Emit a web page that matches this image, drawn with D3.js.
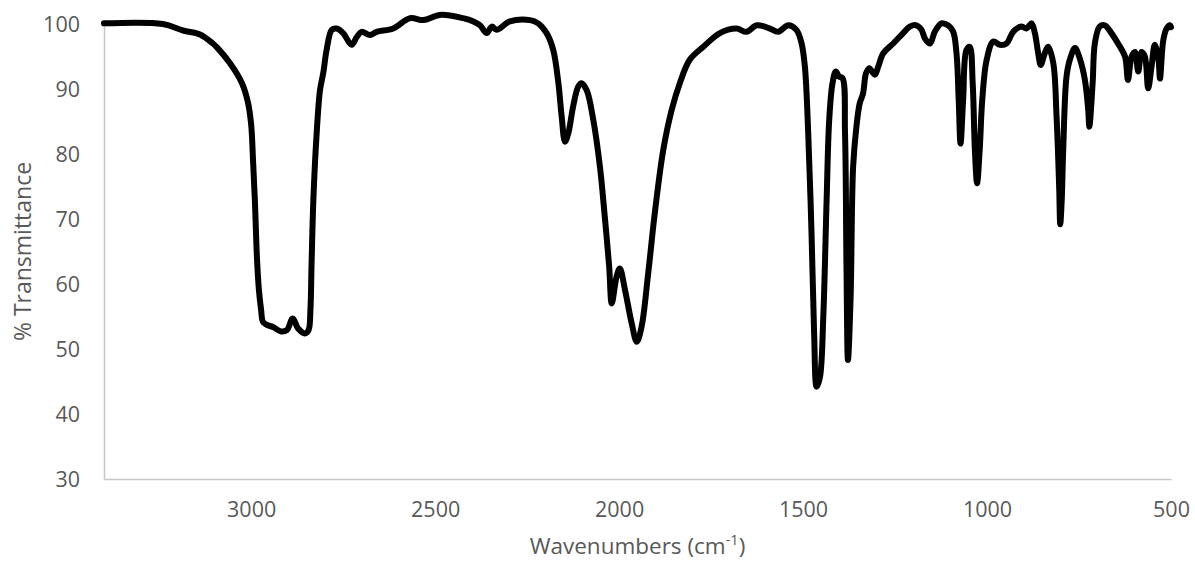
<!DOCTYPE html>
<html>
<head>
<meta charset="utf-8">
<script src="https://cdn.jsdelivr.net/npm/d3@7"></script>
<style>
  html, body { margin: 0; padding: 0; background: #fff; }
  svg { display: block; }
  text { font-family: "Open Sans", "Liberation Sans", sans-serif; fill: #595959; }
</style>
</head>
<body>
<script>
// IR spectrum: wavenumber (cm-1) and % transmittance
const wavenumbers = [
  3400, 3240, 3185, 3139, 3104, 3093, 3058, 3025, 3009, 3000, 2995, 2990, 2984, 2979, 2973, 2968,
  2957, 2941, 2919, 2903, 2887, 2873, 2854, 2844, 2839, 2836, 2831, 2822, 2813, 2804, 2795, 2781,
  2768, 2750, 2727, 2713, 2700, 2677, 2659, 2614, 2568, 2532, 2487, 2424, 2396, 2378, 2360, 2346,
  2333, 2297, 2242, 2220, 2197, 2179, 2165, 2156, 2147, 2138, 2125, 2111, 2102, 2088, 2070, 2052,
  2039, 2027, 2020, 2007, 1998, 1984, 1966, 1952, 1939, 1921, 1903, 1880, 1857, 1835, 1808, 1771,
  1726, 1681, 1654, 1626, 1590, 1568, 1540, 1518, 1504, 1495, 1486, 1477, 1470, 1463, 1454, 1445,
  1436, 1429, 1420, 1411, 1402, 1393, 1386, 1382, 1378, 1371, 1364, 1355, 1346, 1337, 1329, 1320,
  1305, 1296, 1282, 1255, 1228, 1210, 1192, 1178, 1169, 1155, 1142, 1124, 1106, 1092, 1083, 1077,
  1072, 1065, 1056, 1047, 1039, 1033, 1027, 1020, 1013, 1001, 983, 965, 947, 929, 906, 893,
  879, 870, 861, 854, 843, 834, 820, 811, 804, 801, 797, 793, 784, 775, 761, 748,
  734, 725, 722, 713, 707, 694, 680, 662, 644, 625, 617, 607, 598, 589, 580, 571,
  562, 553, 544, 534, 530, 521, 512, 503, 500
];
const transmittance = [
  100.1, 100.0, 99.0, 98.4, 97.0, 96.4, 94.0, 90.9, 88.0, 84.5, 79.1, 72.9, 63.7, 59.1, 56.0, 54.2,
  53.7, 53.4, 52.7, 52.9, 54.7, 53.2, 52.4, 52.9, 56.0, 62.7, 72.9, 83.2, 89.8, 92.5, 96.0, 99.1,
  99.3, 98.6, 96.8, 98.0, 98.8, 98.3, 98.8, 99.3, 100.9, 100.6, 101.4, 100.9, 100.4, 99.8, 98.6, 99.6,
  99.1, 100.4, 100.6, 100.1, 98.6, 96.0, 90.9, 85.7, 81.9, 83.2, 87.3, 90.4, 90.9, 89.8, 85.2, 78.0,
  70.4, 62.7, 57.0, 61.1, 62.4, 59.1, 54.0, 51.1, 53.4, 61.6, 70.9, 80.6, 86.8, 90.9, 94.5, 96.5,
  98.6, 99.3, 98.8, 99.8, 99.3, 98.8, 99.8, 99.1, 97.0, 93.4, 83.2, 67.8, 52.5, 44.2, 45.7, 55.0,
  72.9, 85.2, 90.9, 92.7, 91.9, 91.7, 83.2, 62.7, 48.3, 57.5, 78.0, 84.2, 87.8, 89.3, 92.4, 93.2,
  92.2, 93.4, 95.5, 97.0, 98.6, 99.6, 99.8, 99.1, 97.8, 97.0, 98.8, 100.1, 99.8, 98.8, 95.5, 88.3,
  81.6, 88.3, 96.0, 96.5, 90.9, 80.6, 75.5, 80.6, 88.3, 94.5, 97.3, 96.8, 97.0, 98.8, 99.6, 99.3,
  100.1, 98.6, 95.5, 93.7, 95.5, 96.5, 94.0, 85.7, 75.0, 69.2, 72.9, 80.6, 91.9, 94.5, 96.3, 94.7,
  91.4, 86.8, 84.2, 90.9, 97.0, 99.6, 99.8, 98.6, 97.0, 95.0, 91.4, 95.0, 95.7, 92.7, 95.7, 95.0,
  90.1, 93.4, 96.8, 94.5, 91.6, 97.5, 99.3, 99.8, 99.5
];
const xTicks = [3000, 2500, 2000, 1500, 1000, 500];
const yTicks = [30, 40, 50, 60, 70, 80, 90, 100];

const W = 1195, H = 563;
const margin = { left: 104, right: 24, top: 24, bottom: 84 };

const svg = d3.select("body").append("svg").attr("width", W).attr("height", H);

const x = d3.scaleLinear().domain([3400, 500]).range([margin.left, W - margin.right]);
const y = d3.scaleLinear().domain([30, 100]).range([H - margin.bottom, margin.top]);

// axes: thin grey baselines, no tick marks
const xAxis = svg.append("g")
  .attr("transform", `translate(0,${y(30)})`)
  .call(d3.axisBottom(x).tickValues(xTicks).tickSize(0).tickPadding(0).tickFormat(d3.format("d")));
const yAxis = svg.append("g")
  .attr("transform", `translate(${x(3400)},0)`)
  .call(d3.axisLeft(y).tickValues(yTicks).tickSize(0).tickPadding(0).tickFormat(d3.format("d")));

[xAxis, yAxis].forEach(g => {
  g.select(".domain").attr("stroke", "#c6c6c6").attr("stroke-width", 1.5);
  g.selectAll("text").attr("font-size", 21.5).attr("fill", "#595959")
    .attr("font-family", "\"Open Sans\", sans-serif");
});
xAxis.selectAll("text").attr("dy", null).attr("y", 38);
yAxis.selectAll("text").attr("x", -24).attr("dy", "0.35em");

// spectrum trace
const pts = wavenumbers.map((w, i) => [w, transmittance[i]]);
const line = d3.line()
  .x(d => x(d[0]))
  .y(d => y(d[1]))
  .curve(d3.curveCatmullRom.alpha(0.5));

svg.append("path")
  .datum(pts)
  .attr("d", line)
  .attr("fill", "none")
  .attr("stroke", "#000")
  .attr("stroke-width", 6)
  .attr("stroke-linejoin", "round")
  .attr("stroke-linecap", "round");

// axis titles
const xt = svg.append("text")
  .attr("x", (x(3400) + x(500)) / 2)
  .attr("y", 554)
  .attr("text-anchor", "middle")
  .attr("font-size", 22.5);
xt.append("tspan").text("Wavenumbers (cm");
xt.append("tspan").text("-1").attr("font-size", 14.5).attr("dy", -9);
xt.append("tspan").text(")").attr("dy", 9);

svg.append("text")
  .attr("transform", `translate(31,${(y(30) + y(100)) / 2}) rotate(-90)`)
  .attr("text-anchor", "middle")
  .attr("font-size", 23)
  .text("% Transmittance");
</script>
</body>
</html>
